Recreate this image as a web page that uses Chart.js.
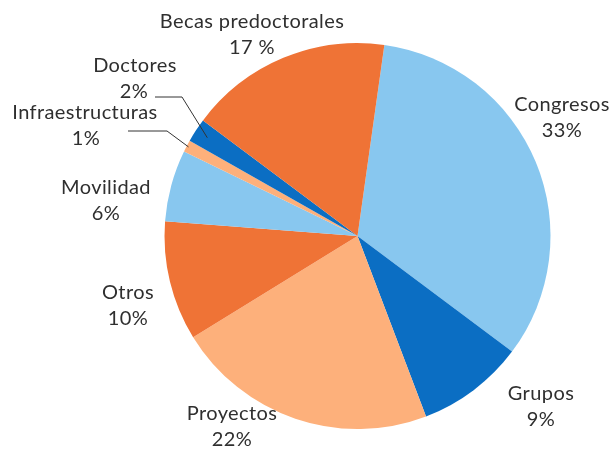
<!DOCTYPE html>
<html>
<head>
<meta charset="utf-8">
<script src="https://cdn.jsdelivr.net/npm/chart.js@4.4.1/dist/chart.umd.min.js"></script>
<style>
html,body{margin:0;padding:0;background:#fff;}
#wrap{width:614px;height:452px;position:relative;}
</style>
</head>
<body>
<div id="wrap"><canvas id="c" width="614" height="452"></canvas></div>
<script>
// Data
const categories = ["Congresos","Grupos","Proyectos","Otros","Movilidad","Infraestructuras","Doctores","Becas predoctorales"];
const values = [33, 9, 22, 10, 6, 1, 2, 17];
const valueLabels = ["33%","9%","22%","10%","6%","1%","2%","17 %"];

// Styles
const colors = ["#88C7EF","#0B6EC3","#FDB07B","#EF7336","#88C7EF","#FDB07B","#0B6EC3","#EF7336"];
// label placement (name line center) and optional leader line
const labelLayout = [
  {x:562, y:105},
  {x:541, y:394},
  {x:232, y:414},
  {x:128, y:293},
  {x:106, y:188},
  {x:85,  y:113, vx:86,  leader:{x0:128, y0:131, x1:167, y1:131, r:0.99}},
  {x:135, y:66,  vx:134, leader:{x0:155, y0:97,  x1:182, y1:97,  r:0.93}},
  {x:252, y:22}
];

const labelPlugin = {
  id:'labels',
  afterDraw(chart){
    const ctx = chart.ctx;
    const meta = chart.getDatasetMeta(0);
    ctx.save();
    ctx.font = '20px "Lato", "Open Sans", sans-serif';
    if ('letterSpacing' in ctx) ctx.letterSpacing = '0.4px';
    ctx.fillStyle = '#2f2f2f';
    ctx.textAlign = 'center';
    ctx.textBaseline = 'middle';
    meta.data.forEach((arc, i) => {
      const L = labelLayout[i];
      ctx.fillText(categories[i], L.x, L.y);
      ctx.fillText(valueLabels[i], L.vx !== undefined ? L.vx : L.x, L.y + 26);
      if (L.leader){
        const p = arc.getProps(['x','y','startAngle','endAngle','outerRadius']);
        const mid = (p.startAngle + p.endAngle)/2;
        const ex = p.x + Math.cos(mid)*p.outerRadius*L.leader.r;
        const ey = p.y + Math.sin(mid)*p.outerRadius*L.leader.r;
        ctx.beginPath();
        ctx.strokeStyle = '#333';
        ctx.lineWidth = 1;
        ctx.moveTo(L.leader.x0, L.leader.y0);
        ctx.lineTo(L.leader.x1, L.leader.y1);
        ctx.lineTo(ex, ey);
        ctx.stroke();
      }
    });
    ctx.restore();
  }
};

new Chart(document.getElementById('c'), {
  type:'pie',
  data:{
    labels: categories,
    datasets:[{
      data: values,
      backgroundColor: colors,
      borderWidth: 0
    }]
  },
  options:{
    responsive:false,
    animation:false,
    events:[],
    rotation: 8,
    layout:{padding:{left:164, right:63, top:43, bottom:23}},
    plugins:{legend:{display:false}, tooltip:{enabled:false}}
  },
  plugins:[labelPlugin]
});
</script>
</body>
</html>
